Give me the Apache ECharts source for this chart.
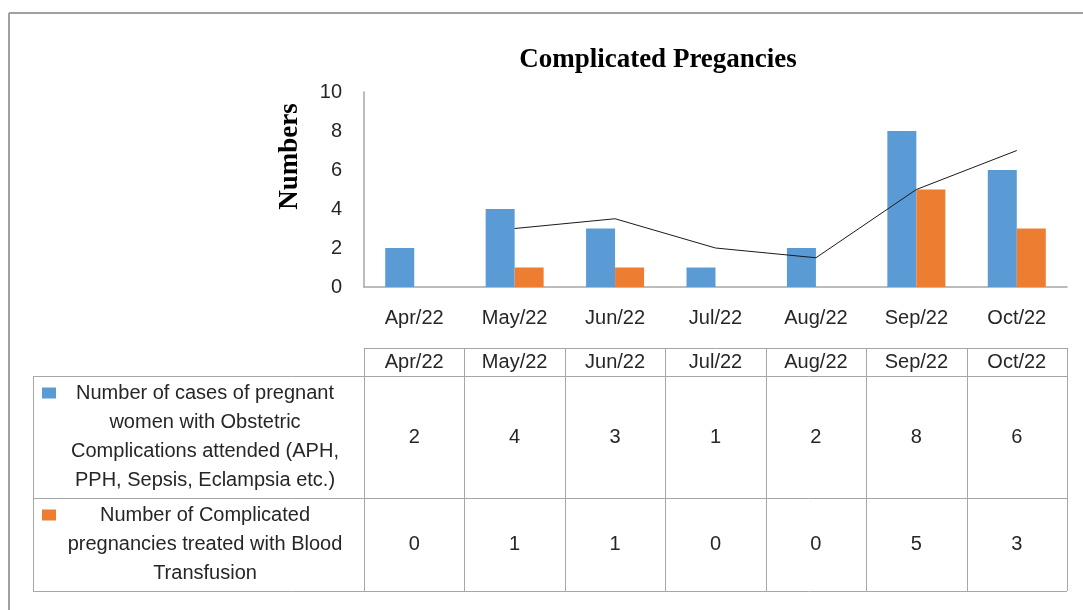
<!DOCTYPE html>
<html>
<head>
<meta charset="utf-8" />
<title>Complicated Pregancies</title>
<script src="https://cdn.jsdelivr.net/npm/echarts@6/dist/echarts.min.js"></script>
<style>
	body { margin: 0; background: #fff; }
	#main { width: 1083px; height: 610px; }
</style>
</head>
<body>
<div id="main"></div>
<script type="text/javascript">
	// data
	var months = ['Apr/22', 'May/22', 'Jun/22', 'Jul/22', 'Aug/22', 'Sep/22', 'Oct/22'];
	var obstetric = [2, 4, 3, 1, 2, 8, 6];
	var transfusion = [0, 1, 1, 0, 0, 5, 3];
	var trend = [null, 3, 3.5, 2, 1.5, 5, 7];
	var rowLines = [
		['Number of cases of pregnant', 'women with Obstetric', 'Complications attended (APH,', 'PPH, Sepsis, Eclampsia etc.)'],
		['Number of Complicated', 'pregnancies treated with Blood', 'Transfusion']
	];

	var blue = '#5B9BD5';
	var orange = '#ED7D31';
	var sans = '"Liberation Sans", Arial, sans-serif';
	var serif = '"Liberation Serif", "Times New Roman", serif';
	var fs = 20;

	var myChart = echarts.init(document.getElementById('main'));

	var option = {
		animation: false,
		backgroundColor: '#fff',
		title: {
			text: 'Complicated Pregancies',
			left: 653,
			top: 42,
			textAlign: 'center',
			textStyle: { fontFamily: serif, fontWeight: 'bold', fontSize: 27, color: '#000' }
		},
		grid: { left: 364, right: 16, top: 92, bottom: 323 },
		xAxis: {
			type: 'category',
			data: months,
			axisLine: { lineStyle: { color: '#a6a6a6', width: 1.5 } },
			axisTick: { show: false },
			axisLabel: { fontFamily: sans, fontSize: fs, color: '#262626', margin: 21 }
		},
		yAxis: {
			type: 'value',
			min: 0,
			max: 10,
			interval: 2,
			name: 'Numbers',
			nameLocation: 'middle',
			nameGap: 60,
			nameTextStyle: { fontFamily: serif, fontWeight: 'bold', fontSize: 27, color: '#000', padding: [0, 0, 0, 66] },
			axisLine: { show: true, lineStyle: { color: '#a6a6a6', width: 1.5 } },
			axisTick: { show: false },
			splitLine: { show: false },
			axisLabel: { fontFamily: sans, fontSize: fs, color: '#262626', margin: 22 }
		},
		series: [
			{ type: 'bar', data: obstetric, barWidth: 29, barGap: '0%', itemStyle: { color: blue } },
			{ type: 'bar', data: transfusion, barWidth: 29, barGap: '0%', itemStyle: { color: orange } },
			{ type: 'line', data: trend, symbol: 'none', lineStyle: { color: '#1a1a1a', width: 1 }, z: 5 }
		]
	};
	myChart.setOption(option);

	// data table under the chart, columns follow the x axis
	var x0 = myChart.convertToPixel({ xAxisIndex: 0 }, 0);
	var x1 = myChart.convertToPixel({ xAxisIndex: 0 }, 1);
	var band = x1 - x0;
	var colLeft = Math.round(x0 - band / 2);
	var colRight = Math.round(x0 + band * (months.length - 0.5));
	var legLeft = 33;
	var rows = [348, 376, 498, 591];
	var lineColor = '#a6a6a6';
	var g = [];

	function hline(xa, xb, y) {
		g.push({ type: 'line', shape: { x1: xa, y1: y + 0.5, x2: xb, y2: y + 0.5 }, style: { stroke: lineColor, lineWidth: 1 } });
	}
	function vline(x, ya, yb) {
		g.push({ type: 'line', shape: { x1: Math.round(x) + 0.5, y1: ya, x2: Math.round(x) + 0.5, y2: yb }, style: { stroke: lineColor, lineWidth: 1 } });
	}
	function txt(x, y, s) {
		g.push({ type: 'text', x: x, y: y, style: { text: s, fill: '#262626', font: fs + 'px ' + sans, textAlign: 'center', textVerticalAlign: 'middle' } });
	}

	// outer frame
	g.push({ type: 'line', shape: { x1: 9, y1: 13, x2: 1083, y2: 13 }, style: { stroke: '#a0a0a0', lineWidth: 2 } });
	g.push({ type: 'line', shape: { x1: 9, y1: 13, x2: 9, y2: 610 }, style: { stroke: '#a0a0a0', lineWidth: 2 } });

	hline(colLeft, colRight, rows[0]);
	hline(legLeft, colRight, rows[1]);
	hline(legLeft, colRight, rows[2]);
	hline(legLeft, colRight, rows[3]);
	vline(legLeft, rows[1], rows[3]);
	for (var i = 0; i <= months.length; i++) {
		vline(x0 - band / 2 + band * i, rows[0], rows[3]);
	}

	var values = [obstetric, transfusion];
	for (var i = 0; i < months.length; i++) {
		var cx = myChart.convertToPixel({ xAxisIndex: 0 }, i);
		txt(cx, (rows[0] + rows[1]) / 2, months[i]);
		txt(cx, (rows[1] + rows[2]) / 2, String(values[0][i]));
		txt(cx, (rows[2] + rows[3]) / 2, String(values[1][i]));
	}

	var colors = [blue, orange];
	for (var r = 0; r < rowLines.length; r++) {
		var cellTop = rows[r + 1], cellBottom = rows[r + 2];
		var n = rowLines[r].length;
		var startY = (cellTop + cellBottom) / 2 - (n - 1) * 29 / 2;
		for (var k = 0; k < n; k++) {
			txt(205, startY + k * 29, rowLines[r][k]);
		}
		g.push({ type: 'rect', shape: { x: 42, y: startY - 6, width: 14, height: 11 }, style: { fill: colors[r] } });
	}

	myChart.setOption({ graphic: g });
</script>
</body>
</html>
